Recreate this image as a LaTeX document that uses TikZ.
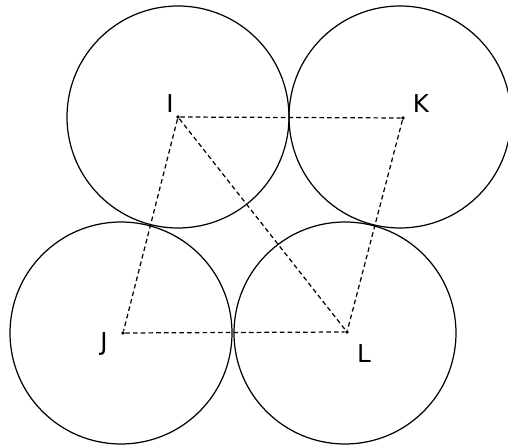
\documentclass[tikz,border=0pt]{standalone}
\usepackage{fontspec}
\setmainfont{DejaVu Sans}
\tikzset{
  ball/.style = {draw, circle, minimum size = 222*0.02cm, inner sep = 0pt, line width = 0.7pt},
  centre/.style = {fill, circle, minimum size = 2.2pt, inner sep = 0pt},
  link/.style = {dash pattern = on 2.6pt off 1.8pt, line width = 0.7pt},
  lbl/.style = {font = \fontsize{14}{16}\selectfont}
}
\begin{document}
\begin{tikzpicture}[x = 0.02cm, y = -0.02cm]
        \useasboundingbox (0,0) rectangle (508,445);
        \node[ball] (bI) at (178,117) {};
        \node[ball] (bK) at (400,117) {};
        \node[ball] (bJ) at (121,333) {};
        \node[ball] (bL) at (345,333) {};
        \node[centre] (I) at (178,117) {};
        \node[centre] (K) at (403,118) {};
        \node[centre] (J) at (123,333) {};
        \node[centre] (L) at (347,332) {};
        \node[lbl] (lI) at (170,104) {I};
        \node[lbl] (lK) at (421,104) {K};
        \node[lbl] (lJ) at (104,344) {J};
        \node[lbl] (lL) at (364,354) {L};
        \draw[link] (I) -- (K);
        \draw[link] (I) -- (J);
        \draw[link] (I) -- (L);
        \draw[link] (K) -- (L);
        \draw[link] (J) -- (L);
    \end{tikzpicture}
\end{document}
